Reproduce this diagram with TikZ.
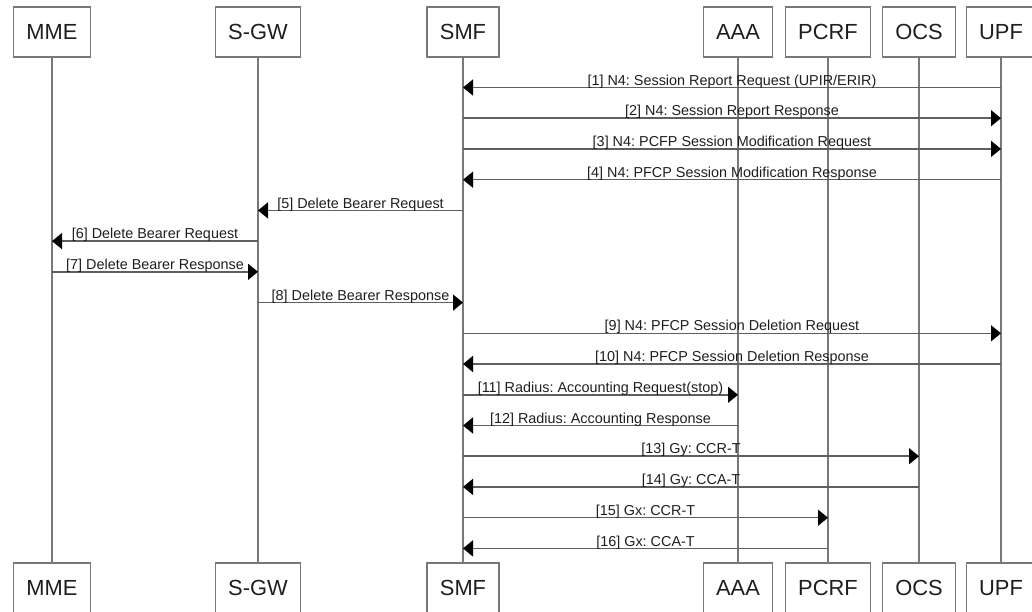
\documentclass[tikz,border=0pt]{standalone}
\usepackage{fontspec}
\setmainfont{Liberation Sans}
\usetikzlibrary{arrows.meta}
\frenchspacing

\definecolor{lifegray}{RGB}{120,120,120}
\definecolor{msggray}{RGB}{95,95,95}
\definecolor{txtdark}{RGB}{30,30,30}

\tikzset{every picture/.style={line width=0.75pt}}
\tikzset{
  actor/.style={draw=lifegray, line width=1.1pt, rectangle, minimum height=37.5pt,
    inner xsep=9.6pt, fill=white, text=txtdark, font=\fontsize{16.4}{19}\selectfont},
  lifeline/.style={draw=lifegray, line width=1.1pt},
  msg/.style={draw=msggray, line width=1.1pt,
    -{Triangle[length=7.5pt,width=12pt,color=black]}},
  lbl/.style={midway, anchor=south, inner sep=0pt, yshift=-1pt, text=txtdark,
    font=\fontsize{10.8}{13}\selectfont}
}

\begin{document}
\begin{tikzpicture}[x=0.75pt,y=0.75pt,yscale=-1,xscale=1]
\useasboundingbox (0,0) rectangle (1032,611);

% Top actors
\node [actor] (mmeT) at (52,32) {MME};
\node [actor] (sgwT) at (258,32) {S-GW};
\node [actor] (smfT) at (463,32) {SMF};
\node [actor] (aaaT) at (738,32) {AAA};
\node [actor] (pcrfT) at (828,32) {PCRF};
\node [actor] (ocsT) at (919,32) {OCS};
\node [actor] (upfT) at (1001,32) {UPF};
% Bottom actors
\node [actor] (mmeB) at (52,588) {MME};
\node [actor] (sgwB) at (258,588) {S-GW};
\node [actor] (smfB) at (463,588) {SMF};
\node [actor] (aaaB) at (738,588) {AAA};
\node [actor] (pcrfB) at (828,588) {PCRF};
\node [actor] (ocsB) at (919,588) {OCS};
\node [actor] (upfB) at (1001,588) {UPF};

% Lifelines
\draw [lifeline] (mmeT) -- (mmeB);
\draw [lifeline] (sgwT) -- (sgwB);
\draw [lifeline] (smfT) -- (smfB);
\draw [lifeline] (aaaT) -- (aaaB);
\draw [lifeline] (pcrfT) -- (pcrfB);
\draw [lifeline] (ocsT) -- (ocsB);
\draw [lifeline] (upfT) -- (upfB);

% Messages
\draw [msg] (upfT |- 0,87.5) -- (smfT |- 0,87.5) node [lbl] {[1] N4: Session Report Request (UPIR/ERIR)};
\draw [msg] (smfT |- 0,118.2) -- (upfT |- 0,118.2) node [lbl] {[2] N4: Session Report Response};
\draw [msg] (smfT |- 0,148.9) -- (upfT |- 0,148.9) node [lbl] {[3] N4: PCFP Session Modification Request};
\draw [msg] (upfT |- 0,179.7) -- (smfT |- 0,179.7) node [lbl] {[4] N4: PFCP Session Modification Response};
\draw [msg] (smfT |- 0,210.4) -- (sgwT |- 0,210.4) node [lbl] {[5] Delete Bearer Request};
\draw [msg] (sgwT |- 0,241.1) -- (mmeT |- 0,241.1) node [lbl] {[6] Delete Bearer Request};
\draw [msg] (mmeT |- 0,271.8) -- (sgwT |- 0,271.8) node [lbl] {[7] Delete Bearer Response};
\draw [msg] (sgwT |- 0,302.6) -- (smfT |- 0,302.6) node [lbl] {[8] Delete Bearer Response};
\draw [msg] (smfT |- 0,333.3) -- (upfT |- 0,333.3) node [lbl] {[9] N4: PFCP Session Deletion Request};
\draw [msg] (upfT |- 0,364.0) -- (smfT |- 0,364.0) node [lbl] {[10] N4: PFCP Session Deletion Response};
\draw [msg] (smfT |- 0,394.8) -- (aaaT |- 0,394.8) node [lbl] {[11] Radius: Accounting Request(stop)};
\draw [msg] (aaaT |- 0,425.5) -- (smfT |- 0,425.5) node [lbl] {[12] Radius: Accounting Response};
\draw [msg] (smfT |- 0,456.2) -- (ocsT |- 0,456.2) node [lbl] {[13] Gy: CCR-T};
\draw [msg] (ocsT |- 0,486.9) -- (smfT |- 0,486.9) node [lbl] {[14] Gy: CCA-T};
\draw [msg] (smfT |- 0,517.7) -- (pcrfT |- 0,517.7) node [lbl] {[15] Gx: CCR-T};
\draw [msg] (pcrfT |- 0,548.4) -- (smfT |- 0,548.4) node [lbl] {[16] Gx: CCA-T};

\end{tikzpicture}
\end{document}
